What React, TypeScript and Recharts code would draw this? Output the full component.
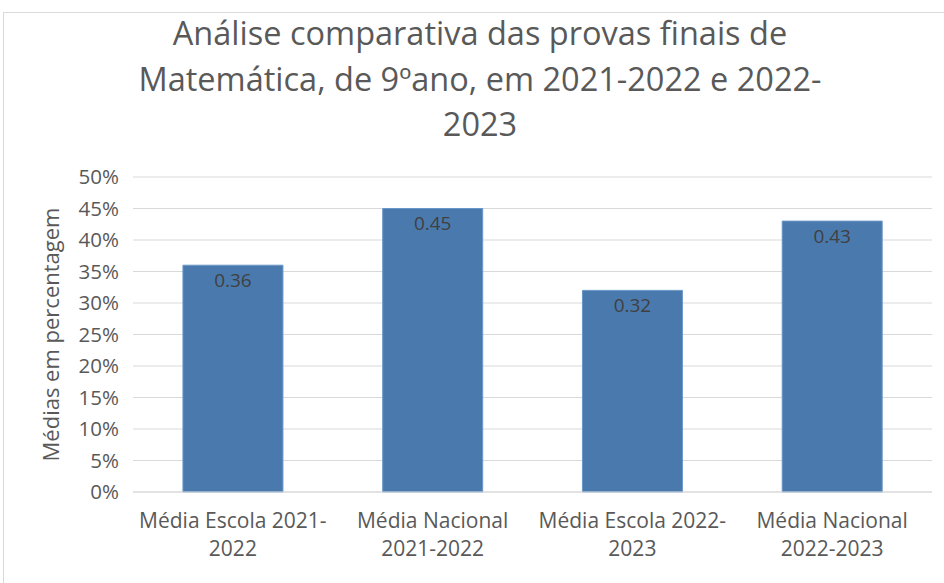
import React from 'react';
import { BarChart, Bar, XAxis, YAxis, CartesianGrid, LabelList } from 'recharts';

const CATEGORIES = [
  'Média Escola 2021-2022',
  'Média Nacional 2021-2022',
  'Média Escola 2022-2023',
  'Média Nacional 2022-2023',
];
const VALUES = [0.36, 0.45, 0.32, 0.43];
const TICK_LINES = [
  ['Média Escola 2021-', '2022'],
  ['Média Nacional', '2021-2022'],
  ['Média Escola 2022-', '2023'],
  ['Média Nacional', '2022-2023'],
];
const Y_TICKS = [0, 0.05, 0.1, 0.15, 0.2, 0.25, 0.3, 0.35, 0.4, 0.45, 0.5];
const TITLE_LINES = [
  'Análise comparativa das provas finais de',
  'Matemática, de 9ºano, em 2021-2022 e 2022-',
  '2023',
];

const data = CATEGORIES.map((name, i) => ({ name, value: VALUES[i] }));

const FONT = '"Open Sans", sans-serif';
const GREY = '#595959';

const XTick = (props: any) => {
  const { x, y, index } = props;
  const lines = TICK_LINES[index] || [];
  return (
    <g>
      {lines.map((t, i) => (
        <text key={i} x={x} y={y + 28 + i * 28} textAnchor="middle" fill={GREY}
          fontSize={21} fontFamily={FONT}>
          {t}
        </text>
      ))}
    </g>
  );
};

const YLabel = (props: any) => {
  const vb = props.viewBox || { x: 0, y: 0, height: 0 };
  const cx = 50;
  const cy = vb.y + vb.height / 2;
  return (
    <text x={cx} y={cy} transform={`rotate(-90, ${cx}, ${cy})`} textAnchor="middle"
      dominantBaseline="central" fill={GREY} fontSize={22} fontFamily={FONT}>
      Médias em percentagem
    </text>
  );
};

const App: React.FC = () => {
  return (
    <div style={{ position: 'fixed', left: 0, top: 0, width: 944, height: 583, background: '#fff', overflow: 'hidden' }}>
      <div style={{ position: 'absolute', left: 3, top: 12, width: 1000, height: 1000, border: '1px solid #d9d9d9' }} />
      <div style={{ position: 'absolute', left: 0, top: 10, width: 944, textAlign: 'center', fontFamily: FONT, fontSize: 32.5, color: GREY, lineHeight: '45.5px' }}>
        {TITLE_LINES.map((l, i) => (
          <div key={i} style={{ paddingLeft: 16 }}>{l}</div>
        ))}
      </div>
      <div style={{ position: 'absolute', left: 0, top: 0 }}>
        <BarChart width={944} height={583} data={data}
          margin={{ top: 177, right: 12, bottom: 31, left: 33 }} barCategoryGap="25%">
          <CartesianGrid vertical={false} stroke="#d9d9d9" strokeWidth={1} />
          <XAxis dataKey="name" axisLine={{ stroke: '#d9d9d9' }} tickLine={false} tick={<XTick />} interval={0} height={60} />
          <YAxis width={100} domain={[0, 0.5]} ticks={Y_TICKS} axisLine={false} tickLine={false}
            tickSize={0} tickMargin={14}
            tickFormatter={(v: number) => `${Math.round(v * 100)}%`}
            tick={{ fill: GREY, fontSize: 20.5, fontFamily: FONT }}
            label={<YLabel />} />
          <Bar dataKey="value" fill="#4a7aad" stroke="#6a97c9" strokeWidth={1} isAnimationActive={false}>
            <LabelList dataKey="value" position="insideTop" offset={8} fill="#404040" fontSize={19} fontFamily={FONT} />
          </Bar>
        </BarChart>
      </div>
    </div>
  );
};

export default App;
